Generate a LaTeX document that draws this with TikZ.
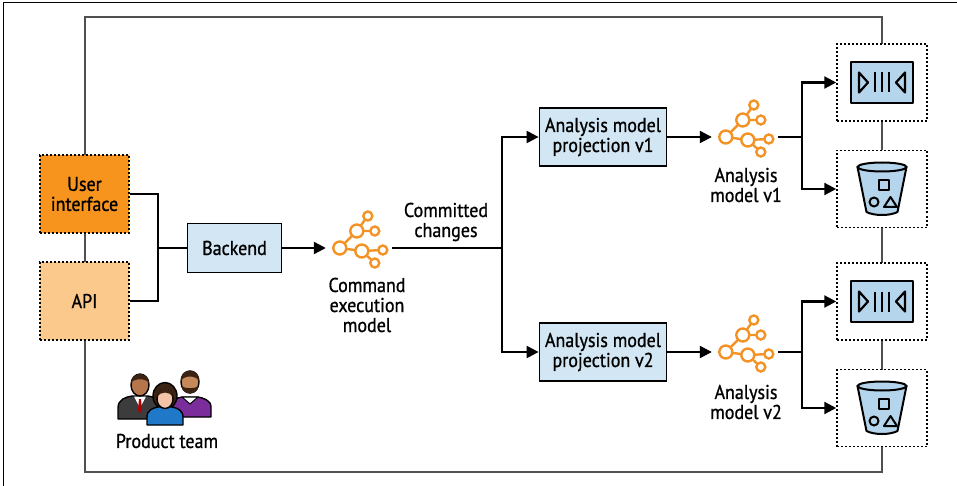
\documentclass[tikz,border=0pt]{standalone}
\usepackage{fontspec}
\setmainfont{PT Sans}[FakeStretch=0.9, FakeBold=0.9]
\usetikzlibrary{arrows.meta,calc}

\definecolor{uiorange}{HTML}{F7941D}
\definecolor{apiorange}{HTML}{FBC98C}
\definecolor{procblue}{HTML}{D2E6F3}
\definecolor{iconblue}{HTML}{B4D5EC}
\definecolor{framegray}{HTML}{505050}
\definecolor{netorange}{HTML}{F39325}
\definecolor{suit}{HTML}{3C3C3C}
\definecolor{skinA}{HTML}{B5764C}
\definecolor{skinB}{HTML}{F4C4A8}
\definecolor{skinC}{HTML}{C68A5A}
\definecolor{hairdark}{HTML}{3B2314}
\definecolor{shirtblue}{HTML}{1F78C8}
\definecolor{shirtpurple}{HTML}{7B2D9B}

\tikzset{
  txt/.style={font=\fontsize{20}{20}\selectfont},
  procbox/.style={txt, draw=black, line width=1.8pt, fill=procblue, align=center, inner sep=0pt},
  srcbox/.style={txt, draw=black, line width=1.5pt, dash pattern=on 2pt off 2pt,
    align=center, minimum width=89pt, minimum height=78pt, inner sep=0pt},
  storebox/.style={draw=black, line width=1.5pt, dash pattern=on 2pt off 2pt,
    fill=white, minimum width=90pt, minimum height=77pt, inner sep=0pt},
  hub/.style={minimum width=66pt, minimum height=10pt, inner sep=0pt},
  lbl/.style={txt, align=center, inner sep=0pt},
  flow/.style={line width=2.2pt, draw=black},
  arr/.style={flow, -{Triangle[length=12pt,width=12pt]}},
  icon/.style={draw=black, line width=2pt, line join=round},
  netgraph/.pic={
    \draw[netorange, line width=2.4pt]
      (0,0) -- (17,-17) -- (28,-32) (17,-17) -- (35,-17)
      (0,0) -- (22,3) -- (43,2) (22,3) -- (35,15);
    \foreach \cx/\cy/\r in {0/0/6.5, 17/-17/6.5, 28/-32/4.5, 35/-17/4.5,
                            22/3/6.5, 43/2/4.5, 35/15/4.5}
      \draw[netorange, line width=2.4pt, fill=white] (\cx,\cy) circle[radius=\r];
  }
}

\begin{document}
\begin{tikzpicture}[x=1pt, y=-1pt]
  \useasboundingbox (0,0) rectangle (957,486);
  \draw[black, line width=1pt] (3,486) -- (3,3) -- (957,3);

  % outer system frame
  \draw[framegray, line width=1.6pt] (85,17) rectangle (882,472);

  % entry points
  \node[srcbox, fill=uiorange]  (ui)  at (84.5,194) {User\\interface};
  \node[srcbox, fill=apiorange] (api) at (84.5,301) {API};

  \node[procbox, minimum width=94pt, minimum height=49pt] (backend) at (234.5,248) {Backend};

  % command execution model
  \node[hub] (cmdicon) at (359,248) {};
  \path (cmdicon.west) ++(14,0) pic {netgraph};
  \node[lbl] (cmdlbl) at (367,305) {Command\\execution\\model};

  \coordinate (j1) at (158,248);
  \coordinate (j2) at (502,248);
  \node[lbl] (commit) at (446,222) {Committed\\changes};

  % projections
  \node[procbox, minimum width=127pt, minimum height=58pt] (v1) at (603,137) {Analysis model\\projection v1};
  \node[procbox, minimum width=127pt, minimum height=58pt] (v2) at (603,352) {Analysis model\\projection v2};

  \node[hub] (an1) at (745,137) {};
  \path (an1.west) ++(14,0) pic {netgraph};
  \node[lbl] (an1lbl) at (746,185) {Analysis\\model v1};

  \node[hub] (an2) at (745,352) {};
  \path (an2.west) ++(14,0) pic {netgraph};
  \node[lbl] (an2lbl) at (746,402) {Analysis\\model v2};

  \coordinate (j3) at (802,137);
  \coordinate (j4) at (802,352);

  % sinks
  \node[storebox] (s1) at (882,82.5) {};
  \node[storebox] (b1) at (882,189) {};
  \node[storebox] (s2) at (882,301.5) {};
  \node[storebox] (b2) at (882,408) {};

  % stream glyphs
  \foreach \n in {s1,s2} {
    \begin{scope}[shift={(\n.center)}]
      \draw[icon, fill=iconblue] (-31,-20.5) rectangle (31,20.5);
      \draw[icon, line width=2.2pt] (-23,-10) -- (-14,0) -- (-23,10) -- cycle;
      \draw[icon, line width=2.2pt] (23,-10) -- (14,0) -- (23,10) -- cycle;
      \draw[icon, line width=2.2pt] (-7,-10) -- (-7,10) (0,-10) -- (0,10) (7,-10) -- (7,10);
    \end{scope}
  }
  % bucket glyphs
  \foreach \n in {b1,b2} {
    \begin{scope}[shift={(\n.center)}]
      \draw[icon, fill=iconblue] (-24.5,-22) -- (-15.5,23)
        .. controls (-8,27) and (8,27) .. (15.5,23) -- (24.5,-22) -- cycle;
      \draw[icon, fill=iconblue] (0,-22) ellipse[x radius=24.5, y radius=4.5];
      \draw[icon] (-3,-9) rectangle (7,1);
      \draw[icon] (-8,13) circle[radius=4.5];
      \draw[icon] (2,18) -- (8.5,8) -- (15,18) -- cycle;
    \end{scope}
  }

  % connectors
  \draw[flow] (ui.east) -| (j1) |- (api.east);
  \draw[flow] (j1) -- (backend.west);
  \draw[arr] (backend.east) -- (cmdicon.west);
  \draw[flow] (cmdicon.east) -- (j2);
  \draw[arr] (j2) |- (v1.west);
  \draw[arr] (j2) |- (v2.west);
  \draw[arr] (v1.east) -- (an1.west);
  \draw[arr] (v2.east) -- (an2.west);
  \draw[flow] (an1.east) -- (j3);
  \draw[flow] (an2.east) -- (j4);
  \draw[arr] (j3) |- (s1.west);
  \draw[arr] (j3) |- (b1.west);
  \draw[arr] (j4) |- (s2.west);
  \draw[arr] (j4) |- (b2.west);

  % product team
  \begin{scope}[line width=1.4pt, line join=round]
    % left man
    \draw[fill=suit] (118,419) -- (118,408) .. controls (118,399) and (126,397) .. (132,396)
      -- (148,396) .. controls (154,397) and (162,399) .. (162,408) -- (162,419) -- cycle;
    \fill[white] (134,396.5) -- (140,408) -- (146,396.5) -- cycle;
    \fill[red!70!black] (139,399) -- (141,399) -- (142,410) -- (140,413) -- (138,410) -- cycle;
    \draw[fill=skinA] (140,385) ellipse[x radius=9, y radius=11];
    \fill[hairdark] (131,383) .. controls (130,371) and (150,371) .. (149,383)
      .. controls (146,378) and (134,378) .. (131,383) -- cycle;
    % right man
    \draw[fill=shirtpurple] (170,417) -- (170,407) .. controls (170,400) and (177,398) .. (182,397)
      -- (198,397) .. controls (203,398) and (211,400) .. (211,407) -- (211,417) -- cycle;
    \draw[fill=white, line width=1pt] (182,397) -- (190,404) -- (198,397) -- cycle;
    \draw[fill=skinC] (190,382) ellipse[x radius=9, y radius=11];
    \fill[hairdark] (181.5,386) .. controls (182,396) and (198,396) .. (198.5,386)
      .. controls (195,389) and (185,389) .. (181.5,386) -- cycle;
    \fill[hairdark] (181,381) .. controls (179,367) and (201,367) .. (199,381)
      .. controls (196,375) and (184,375) .. (181,381) -- cycle;
    % woman
    \draw[fill=hairdark] (165,396) ellipse[x radius=12, y radius=13.5];
    \draw[fill=shirtblue] (147,425) -- (147,417) .. controls (147,410) and (153,408) .. (158,407)
      -- (172,407) .. controls (177,408) and (183,410) .. (183,417) -- (183,425) -- cycle;
    \draw[fill=skinB] (165,399) ellipse[x radius=8, y radius=9.5];
    \fill[hairdark] (157,397) .. controls (158,386) and (172,386) .. (173,397)
      .. controls (169,391) and (161,391) .. (157,397) -- cycle;
  \end{scope}
  \node[lbl] (team) at (167,441) {Product team};
\end{tikzpicture}
\end{document}
